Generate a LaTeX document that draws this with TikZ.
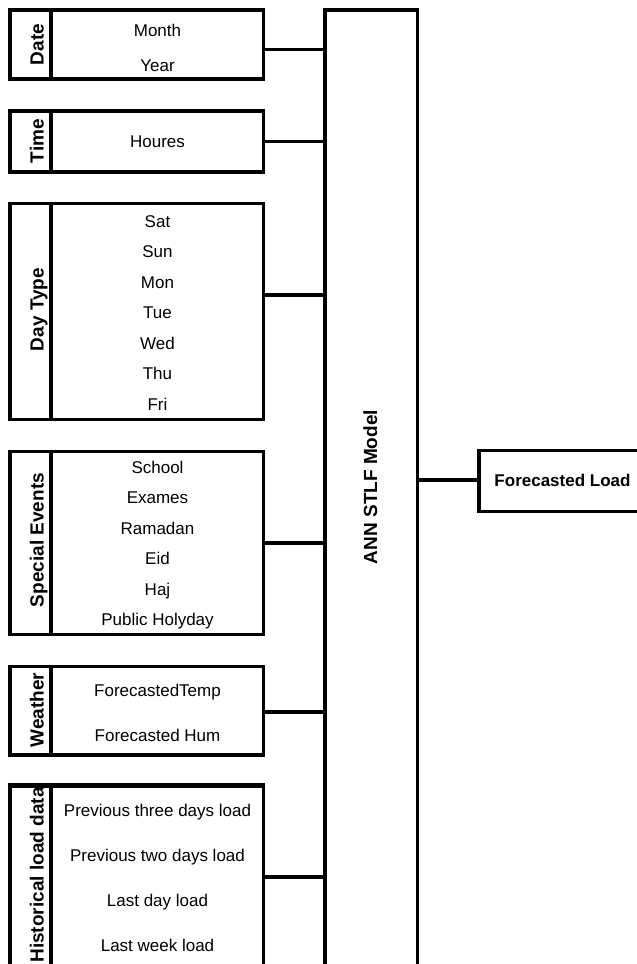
\documentclass[tikz,border=0pt]{standalone}
\usepackage{fontspec}
\setmainfont{Liberation Sans}
\begin{document}
\begin{tikzpicture}[x=1pt,y=-1pt,
  box/.style={draw,line width=3.2pt,inner sep=0pt,rectangle},
  item/.style={inner sep=0pt,font=\fontsize{17}{20}\selectfont,text height=12.2pt,text depth=0pt},
  cat/.style={inner sep=0pt,rotate=90,anchor=base,font=\fontsize{19}{22}\selectfont\bfseries},
  conn/.style={line width=3.2pt}]
\useasboundingbox (0,0) rectangle (637,964);
\clip (0,0) rectangle (637,964);
\fill[white] (0,0) rectangle (637,964);

% category boxes
\node[box,minimum width=253.5pt,minimum height=69pt] (datebox) at (136.75,44.5) {};
\node[box,minimum width=253.5pt,minimum height=61pt] (timebox) at (136.75,141.5) {};
\node[box,minimum width=253.5pt,minimum height=215.6pt] (daybox) at (136.75,311.5) {};
\node[box,minimum width=253.5pt,minimum height=182.6pt] (specbox) at (136.75,543) {};
\node[box,minimum width=253.5pt,minimum height=88.3pt] (weabox) at (136.75,710.8) {};
\node[box,minimum width=253.5pt,minimum height=203pt] (histbox) at (136.75,888) {};

% dividers
\foreach \b in {datebox,timebox,daybox,specbox,weabox,histbox}
  \draw[conn] (\b.north -| 51,0) -- (\b.south -| 51,0);

% category labels
\node[cat] (lDate) at (43.5,44.5) {Date};
\node[cat] (lTime) at (43.5,141) {Time};
\node[cat] (lDay) at (43.5,309.5) {Day Type};
\node[cat] (lSpec) at (43.5,540) {Special Events};
\node[cat] (lWea) at (43.5,710) {Weather};
\begin{scope}
  \clip (10,786.7) rectangle (51,990);
  \node[cat] (lHist) at (43.5,875) {Historical load data};
\end{scope}
\draw[conn] (histbox.north west) -- (histbox.north east);

% items
\node[item] (iMonth) at (157.5,30) {Month};
\node[item] (iYear) at (157.5,65) {Year};
\node[item] (iHour) at (157.5,141.5) {Houres};
\node[item] (iSat) at (157.5,221) {Sat};
\node[item] (iSun) at (157.5,251.5) {Sun};
\node[item] (iMon) at (157.5,282) {Mon};
\node[item] (iTue) at (157.5,312.5) {Tue};
\node[item] (iWed) at (157.5,343) {Wed};
\node[item] (iThu) at (157.5,373.5) {Thu};
\node[item] (iFri) at (157.5,404) {Fri};
\node[item] (iSchool) at (157.5,467) {School};
\node[item] (iExam) at (157.5,497.5) {Exames};
\node[item] (iRam) at (157.5,528) {Ramadan};
\node[item] (iEid) at (157.5,558.5) {Eid};
\node[item] (iHaj) at (157.5,589) {Haj};
\node[item] (iPub) at (157.5,619.5) {Public Holyday};
\node[item] (iTemp) at (157.5,690) {ForecastedTemp};
\node[item] (iHum) at (157.5,735) {Forecasted Hum};
\node[item] (iP3) at (157.5,810) {Previous three days load};
\node[item] (iP2) at (157.5,855) {Previous two days load};
\node[item] (iLd) at (157.5,900) {Last day load};
\node[item] (iLw) at (157.5,945.5) {Last week load};

% model box
\node[box,minimum width=92.7pt,minimum height=980pt] (ann) at (371.35,500) {};
\node[cat] (lAnn) at (377,487) {ANN STLF Model};

% output box
\node[box,minimum width=167pt,minimum height=60.6pt] (outbox) at (562.5,481) {};
\node[item,font=\fontsize{17}{20}\selectfont\bfseries] (lOut) at (562.5,480) {Forecasted Load};

% connectors
\coordinate (cDate) at (0,49.5);
\coordinate (cTime) at (0,141.7);
\coordinate (cDay) at (0,295);
\coordinate (cSpec) at (0,543);
\coordinate (cWea) at (0,712);
\coordinate (cHist) at (0,877);
\coordinate (cOut) at (0,480);
\draw[conn] (datebox.east |- cDate) -- (ann.west |- cDate);
\draw[conn] (timebox.east |- cTime) -- (ann.west |- cTime);
\draw[conn] (daybox.east |- cDay) -- (ann.west |- cDay);
\draw[conn] (specbox.east |- cSpec) -- (ann.west |- cSpec);
\draw[conn] (weabox.east |- cWea) -- (ann.west |- cWea);
\draw[conn] (histbox.east |- cHist) -- (ann.west |- cHist);
\draw[conn] (ann.east |- cOut) -- (outbox.west |- cOut);
\end{tikzpicture}
\end{document}
